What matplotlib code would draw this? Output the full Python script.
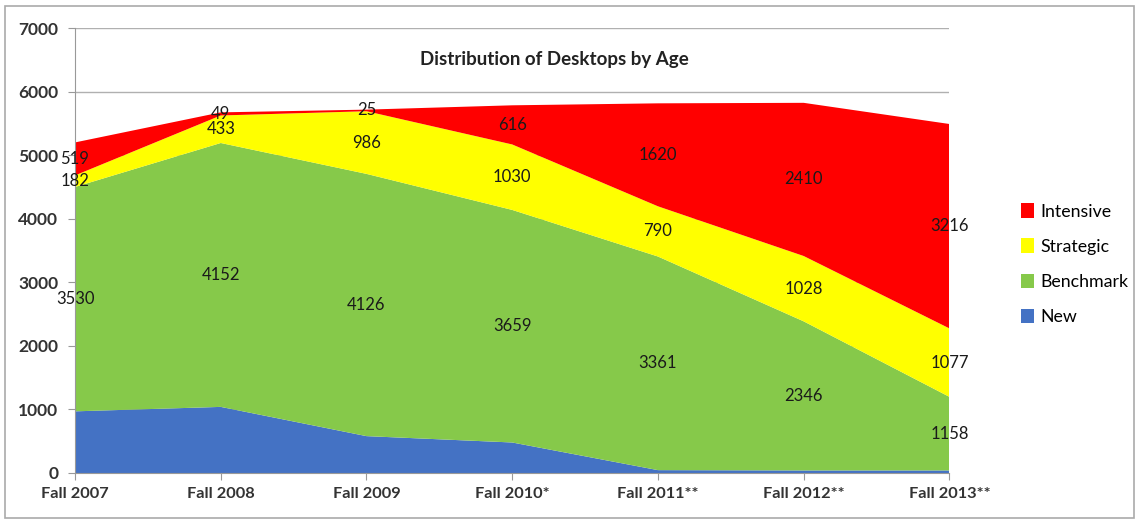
import numpy as np
import matplotlib
matplotlib.use("Agg")
from matplotlib import pyplot as plt
from matplotlib.patches import Rectangle

# data
seasons = ["Fall 2007", "Fall 2008", "Fall 2009", "Fall 2010*", "Fall 2011**", "Fall 2012**", "Fall 2013**"]
new = [970, 1040, 580, 480, 45, 40, 40]
benchmark = [3530, 4152, 4126, 3659, 3361, 2346, 1158]
strategic = [182, 433, 986, 1030, 790, 1028, 1077]
intensive = [519, 49, 25, 616, 1620, 2410, 3216]

series = [("New", new, "#4472c4"),
          ("Benchmark", benchmark, "#86c94a"),
          ("Strategic", strategic, "#ffff00"),
          ("Intensive", intensive, "#ff0000")]

plt.rcParams['font.family'] = ['Lato', 'DejaVu Sans']

fig = plt.figure(figsize=(11.37, 5.2), dpi=100)
ax = fig.add_axes([0.066, 0.0904, 0.769, 0.8556])

x = np.arange(len(seasons))
ax.stackplot(x, *[s[1] for s in series], colors=[s[2] for s in series],
             labels=[s[0] for s in series], zorder=2, linewidth=0)

# data labels in the middle of each band (New is not labelled)
base = np.zeros(len(x))
for name, vals, col in series:
    vals = np.array(vals)
    if name != "New":
        for xi, b, v in zip(x, base, vals):
            ax.text(xi, b + v / 2, str(v), ha="center", va="center",
                    fontsize=12, color="#1a1a1a", zorder=5)
    base = base + vals

ax.set_xlim(0, len(x) - 1)
ax.set_ylim(0, 7000)
ax.set_yticks(range(0, 7001, 1000))
ax.set_xticks(x)
ax.set_xticklabels(seasons, fontweight="bold", fontsize=11.8, color="#333333")
for lab in ax.get_yticklabels():
    lab.set_fontweight("bold")
    lab.set_fontsize(12.5)
    lab.set_color("#333333")
ax.tick_params(axis="y", length=5, color="#999999", pad=7)
ax.tick_params(axis="x", length=5, color="#999999", pad=5)
ax.grid(axis="y", color="#b0b0b0", linewidth=1, zorder=0)
ax.set_axisbelow(True)
for sp in ["top", "right"]:
    ax.spines[sp].set_visible(False)
for sp in ["left", "bottom"]:
    ax.spines[sp].set_color("#999999")

ax.text(0.548, 0.93, "Distribution of Desktops by Age", transform=ax.transAxes,
        ha="center", va="center", fontsize=13.5, fontweight="bold", color="#222222")

handles, labels = ax.get_legend_handles_labels()
fig.legend(handles[::-1], labels[::-1], loc="upper left", bbox_to_anchor=(0.884, 0.64),
           frameon=False, fontsize=12.8, handlelength=0.7, handleheight=0.9,
           handletextpad=0.4, labelspacing=1.05)

# outer chart frame
fig.patches.append(Rectangle((0.004, 0.004), 0.993, 0.985, transform=fig.transFigure,
                             fill=False, edgecolor="#aaaaaa", linewidth=1.2))

fig.savefig("out.png", dpi=100)
